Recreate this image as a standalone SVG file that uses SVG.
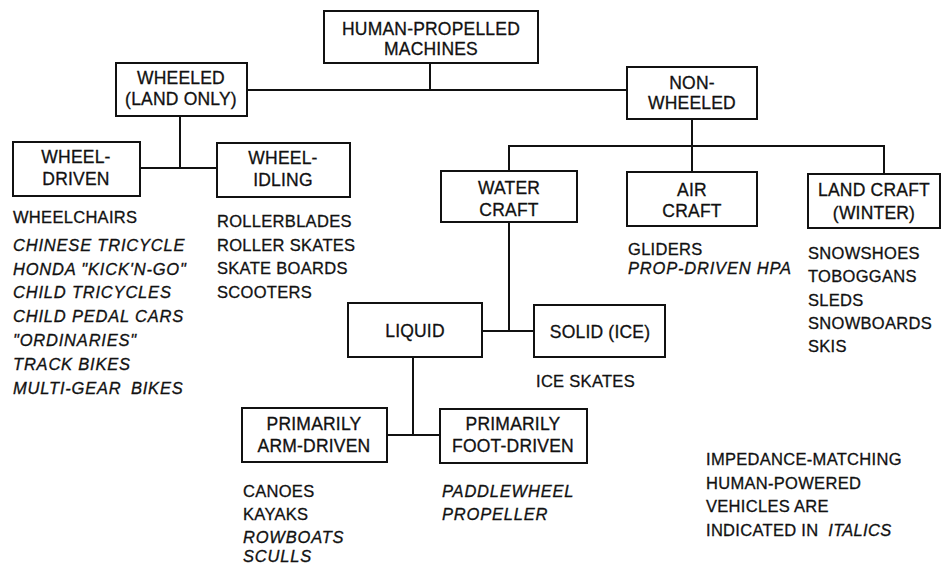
<svg xmlns="http://www.w3.org/2000/svg" width="944" height="565" viewBox="0 0 944 565">
<style>
.box{fill:#fff;stroke:#111;stroke-width:2}
.conn line{stroke:#111;stroke-width:2}
text{font-family:"Liberation Sans",Arial,sans-serif;fill:#111;stroke:#111;stroke-width:0.3}
.bt{font-size:17.5px;text-anchor:middle;letter-spacing:0.2px}
.lt{font-size:16.5px;letter-spacing:0.3px}
.it{font-style:italic;letter-spacing:0.8px}
</style>
<rect width="944" height="565" fill="#fff"/>
<g class="conn" id="connectors">
<line x1="430" y1="63" x2="430" y2="90"/>
<line x1="247" y1="90" x2="627" y2="90"/>
<line x1="180" y1="116" x2="180" y2="168"/>
<line x1="140" y1="168" x2="217" y2="168"/>
<line x1="692" y1="119" x2="692" y2="146"/>
<line x1="508" y1="146" x2="885" y2="146"/>
<line x1="509" y1="145" x2="509" y2="171"/>
<line x1="692" y1="146" x2="692" y2="172"/>
<line x1="884" y1="145" x2="884" y2="174"/>
<line x1="509" y1="222" x2="509" y2="331"/>
<line x1="482" y1="331" x2="534" y2="331"/>
<line x1="413" y1="357" x2="413" y2="435"/>
<line x1="387" y1="435" x2="440" y2="435"/>
</g>
<g id="n-hpm"><rect class="box" x="324" y="11" width="214" height="52"/><text class="bt" x="431" y="35">HUMAN-PROPELLED</text><text class="bt" x="431" y="55">MACHINES</text></g>
<g id="n-wheeled"><rect class="box" x="116" y="63" width="131" height="53"/><text class="bt" x="181" y="84">WHEELED</text><text class="bt" x="181" y="105">(LAND ONLY)</text></g>
<g id="n-nonwheeled"><rect class="box" x="627" y="67" width="130" height="52"/><text class="bt" x="692" y="89">NON-</text><text class="bt" x="692" y="109">WHEELED</text></g>
<g id="n-wdriven"><rect class="box" x="13" y="142" width="127" height="54"/><text class="bt" x="76" y="163">WHEEL-</text><text class="bt" x="76" y="185">DRIVEN</text></g>
<g id="n-widling"><rect class="box" x="217" y="143" width="133" height="54"/><text class="bt" x="283" y="164">WHEEL-</text><text class="bt" x="283" y="186">IDLING</text></g>
<g id="n-water"><rect class="box" x="441" y="171" width="136" height="51"/><text class="bt" x="509" y="194">WATER</text><text class="bt" x="509" y="216">CRAFT</text></g>
<g id="n-air"><rect class="box" x="627" y="172" width="130" height="54"/><text class="bt" x="692" y="196">AIR</text><text class="bt" x="692" y="217">CRAFT</text></g>
<g id="n-landcraft"><rect class="box" x="808" y="174" width="132" height="54"/><text class="bt" x="874" y="196">LAND CRAFT</text><text class="bt" x="874" y="219">(WINTER)</text></g>
<g id="n-liquid"><rect class="box" x="348" y="303" width="134" height="54"/><text class="bt" x="415" y="337">LIQUID</text></g>
<g id="n-solid"><rect class="box" x="534" y="305" width="131" height="52"/><text class="bt" x="600" y="338">SOLID (ICE)</text></g>
<g id="n-arm"><rect class="box" x="242" y="408" width="145" height="54"/><text class="bt" x="314" y="430">PRIMARILY</text><text class="bt" x="314" y="452">ARM-DRIVEN</text></g>
<g id="n-foot"><rect class="box" x="440" y="409" width="147" height="54"/><text class="bt" x="513" y="430">PRIMARILY</text><text class="bt" x="513" y="452">FOOT-DRIVEN</text></g>
<g id="list-wdriven" class="lt">
<text x="13" y="223">WHEELCHAIRS</text>
<text class="it" x="13" y="251">CHINESE TRICYCLE</text>
<text class="it" x="13" y="275">HONDA "KICK'N-GO"</text>
<text class="it" x="13" y="298">CHILD TRICYCLES</text>
<text class="it" x="13" y="322">CHILD PEDAL CARS</text>
<text class="it" x="13" y="346">"ORDINARIES"</text>
<text class="it" x="13" y="370">TRACK BIKES</text>
<text class="it" x="13" y="394">MULTI-GEAR <tspan dx="4">BIKES</tspan></text>
</g>
<g id="list-widling" class="lt">
<text x="217" y="227">ROLLERBLADES</text>
<text x="217" y="251">ROLLER SKATES</text>
<text x="217" y="274">SKATE BOARDS</text>
<text x="217" y="298">SCOOTERS</text>
</g>
<g id="list-air" class="lt">
<text x="628" y="255">GLIDERS</text>
<text class="it" x="628" y="274">PROP-DRIVEN HPA</text>
</g>
<g id="list-land" class="lt">
<text x="808" y="259">SNOWSHOES</text>
<text x="808" y="282">TOBOGGANS</text>
<text x="808" y="306">SLEDS</text>
<text x="808" y="329">SNOWBOARDS</text>
<text x="808" y="352">SKIS</text>
</g>
<g id="list-solid" class="lt"><text x="536" y="387">ICE SKATES</text></g>
<g id="list-arm" class="lt">
<text x="243" y="497">CANOES</text>
<text x="243" y="520">KAYAKS</text>
<text class="it" x="243" y="543">ROWBOATS</text>
<text class="it" x="243" y="562">SCULLS</text>
</g>
<g id="list-foot" class="lt">
<text class="it" x="442" y="497">PADDLEWHEEL</text>
<text class="it" x="442" y="520">PROPELLER</text>
</g>
<g id="legend" class="lt">
<text x="706" y="465">IMPEDANCE-MATCHING</text>
<text x="706" y="489">HUMAN-POWERED</text>
<text x="706" y="512">VEHICLES ARE</text>
<text x="706" y="536">INDICATED IN <tspan dx="5" font-style="italic">ITALICS</tspan></text>
</g>
</svg>
